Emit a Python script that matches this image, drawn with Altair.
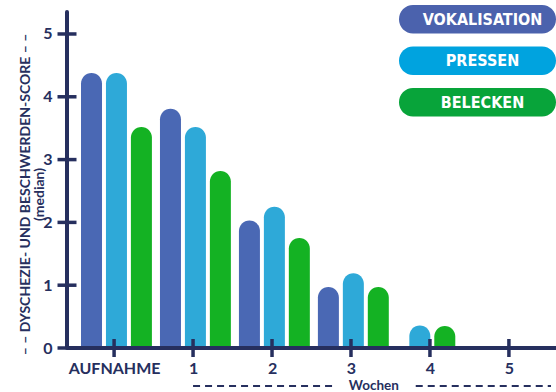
import json

import altair as alt
import pandas as pd

# ---- data -----------------------------------------------------------------
weeks = ["AUFNAHME", "1", "2", "3", "4", "5"]
series = ["VOKALISATION", "PRESSEN", "BELECKEN"]
vokalisation = [4.38, 3.81, 2.03, 0.97, 0.0, 0.0]
pressen = [4.38, 3.52, 2.25, 1.19, 0.36, 0.0]
belecken = [3.52, 2.82, 1.75, 0.97, 0.35, 0.0]
y_ticks = [0, 1, 2, 3, 4, 5]

y_title = ["– –  DYSCHEZIE- UND BESCHWERDEN-SCORE  – –", "(median)"]
x_caption = "Wochen"

# ---- style ----------------------------------------------------------------
bar_colors = ["#4A68B4", "#2EA9D8", "#14B223"]
pill_colors = ["#4B62AD", "#00A3DF", "#08A43A"]
navy = "#262F5E"
font = "Lato"

W, H = 489, 336
X_MIN, X_MAX = -0.533, 5.533
Y_MAX = 5.35
BAR_STEP = 0.316   # distance between neighbouring bars of one week (week units)
BAR_NUDGE = 0.03   # groups sit slightly right of their tick

# one row per drawn bar; weeks without a value simply get fewer bars,
# and the remaining bars are centred on the tick
rows = []
for wi, week in enumerate(weeks):
    vals = [vokalisation[wi], pressen[wi], belecken[wi]]
    present = [(s, v) for s, v in zip(series, vals) if v > 0]
    n = len(present)
    for k, (s, v) in enumerate(present):
        rows.append({
            "week": week,
            "series": s,
            "score": v,
            "pos": wi + (k - (n - 1) / 2) * BAR_STEP + BAR_NUDGE,
        })
bars_df = pd.DataFrame(rows)

x_scale = alt.Scale(domain=[X_MIN, X_MAX], nice=False, zero=False)
y_scale = alt.Scale(domain=[0, Y_MAX], nice=False)

# the same axis objects are used by every layer so the shared axes merge cleanly
x_axis = alt.Axis(
    values=list(range(len(weeks))),
    labelExpr=json.dumps(weeks) + "[datum.value]",
    title=None, grid=False, ticks=False, tickSize=0, domain=False,
    labelFont=font, labelFontSize=16, labelFontWeight="bold",
    labelColor=navy, labelPadding=12, labelFlush=False,
    labelOverlap=False,
)
y_axis = alt.Axis(
    values=y_ticks,
    title=y_title, grid=False, ticks=False, tickSize=0, domain=False,
    labelFont=font, labelFontSize=16, labelFontWeight="bold",
    labelColor=navy, labelPadding=15,
    titleFont=font, titleFontSize=14, titleFontWeight="bold",
    titleColor=navy, titleAngle=270, titleAlign="center",
    titleBaseline="middle", titleLineHeight=14.5,
    titleX=-42, titleY=182,
)

bars = alt.Chart(bars_df).mark_bar(
    orient="vertical", size=21, cornerRadiusEnd=10.5
).encode(
    x=alt.X("pos:Q", scale=x_scale, axis=x_axis),
    y=alt.Y("score:Q", scale=y_scale, axis=y_axis, stack=None),
    color=alt.Color("series:N",
                    scale=alt.Scale(domain=series, range=bar_colors),
                    legend=None),
)

# axis lines, drawn above the bars
axis_lines = [
    alt.Chart().mark_rule(color=navy, strokeWidth=4, strokeCap="round").encode(
        x=alt.value(0), y=alt.value(0), y2=alt.value(H)
    ),
    alt.Chart().mark_rule(color=navy, strokeWidth=4).encode(
        x=alt.value(0), x2=alt.value(W), y=alt.value(H)
    ),
]

# tick marks crossing both axis lines
y_tick_marks = alt.Chart(pd.DataFrame({"v": y_ticks})).mark_tick(
    orient="horizontal", size=19, thickness=3.5, color=navy, opacity=1
).encode(
    x=alt.value(0),
    y=alt.Y("v:Q", scale=y_scale, axis=y_axis),
)
x_tick_marks = alt.Chart(pd.DataFrame({"w": list(range(len(weeks)))})).mark_tick(
    orient="vertical", size=18, thickness=3.5, color=navy, opacity=1
).encode(
    x=alt.X("w:Q", scale=x_scale, axis=x_axis),
    y=alt.value(H),
)

# dashed "Wochen" bracket under the week labels
week_line = alt.Chart(pd.DataFrame({
    "a": [1.0, 3.82], "b": [2.82, X_MAX]
})).mark_rule(strokeDash=[7, 5], strokeWidth=2.2, color=navy).encode(
    x=alt.X("a:Q", scale=x_scale, axis=x_axis),
    x2="b:Q",
    y=alt.value(374),
)
week_text = alt.Chart(pd.DataFrame({"t": [x_caption], "x": [3.29]})).mark_text(
    font=font, fontSize=13.5, fontWeight="bold", color=navy,
    align="center", baseline="alphabetic",
).encode(
    x=alt.X("x:Q", scale=x_scale, axis=x_axis),
    y=alt.value(378),
    text="t:N",
)

# legend pills in the upper right corner
legend_layers = []
for i, (name, col) in enumerate(zip(series, pill_colors)):
    top = -7 + i * 41.5
    one = pd.DataFrame({"label": [name]})
    legend_layers.append(
        alt.Chart(one).mark_rect(cornerRadius=14, color=col).encode(
            x=alt.value(332), x2=alt.value(489),
            y=alt.value(top), y2=alt.value(top + 28.5),
        )
    )
    legend_layers.append(
        alt.Chart(one).mark_text(
            font="DejaVu Sans Condensed", fontSize=16, fontWeight="bold",
            color="white", align="center", baseline="middle",
        ).encode(
            x=alt.value(415.5), y=alt.value(top + 14.5), text="label:N",
        )
    )

chart = alt.layer(
    bars, *axis_lines, x_tick_marks, y_tick_marks, week_line, week_text,
    *legend_layers
).properties(
    width=W, height=H,
    autosize=alt.AutoSizeParams(type="none"),
    padding={"left": 67, "top": 12, "right": 0, "bottom": 44},
    background="white",
).configure_view(stroke=None)

chart.save("out.html", embed_options={"renderer": "svg", "actions": False})
